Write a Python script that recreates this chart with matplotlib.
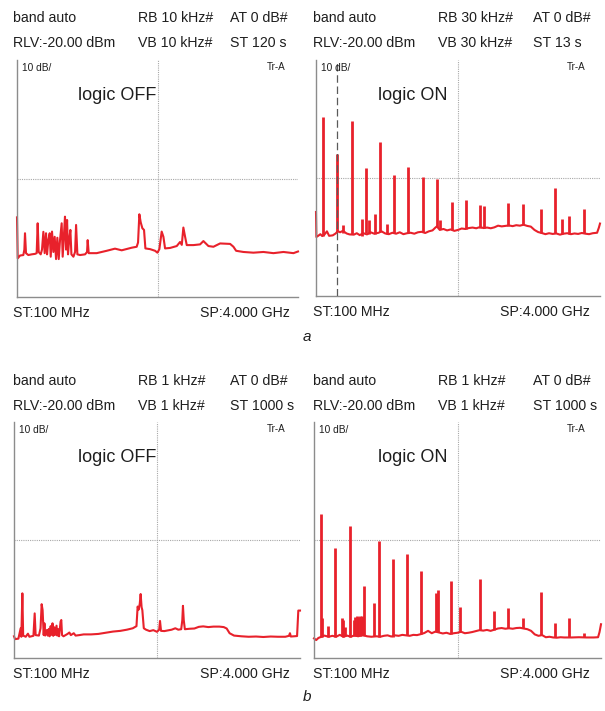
import matplotlib
matplotlib.use("Agg")
import matplotlib.pyplot as plt

plt.rcParams['font.family'] = ['Liberation Sans', 'DejaVu Sans']

# frequency axis (MHz) and level axis (dBm)
F_START, F_STOP = 100, 4000
LVL_TOP, LVL_BOTTOM = -20, -120

# header settings for the four panels
headers = [
    ("band auto", "RB 10 kHz#", "AT 0 dB#", "RLV:-20.00 dBm", "VB 10 kHz#", "ST 120 s"),
    ("band auto", "RB 30 kHz#", "AT 0 dB#", "RLV:-20.00 dBm", "VB 30 kHz#", "ST 13 s"),
    ("band auto", "RB 1 kHz#", "AT 0 dB#", "RLV:-20.00 dBm", "VB 1 kHz#", "ST 1000 s"),
    ("band auto", "RB 1 kHz#", "AT 0 dB#", "RLV:-20.00 dBm", "VB 1 kHz#", "ST 1000 s"),
]
titles = ["logic OFF", "logic ON", "logic OFF", "logic ON"]

# (a) logic OFF, continuous trace
a_off_f = [100, 110, 142, 188, 202, 211, 225, 257, 304, 350, 373, 387, 401, 429, 447,
           466, 484, 503, 517, 535, 554, 568, 586, 605, 623, 642, 660, 679, 697, 720,
           734, 753, 766, 781, 795, 808, 827, 841, 855, 883, 906, 920, 938, 975, 1045,
           1072, 1081, 1095, 1206, 1345, 1460, 1553, 1692, 1761, 1780, 1798, 1817, 1840,
           1863, 1882, 1947, 2016, 2049, 2076, 2108, 2132, 2155, 2225, 2317, 2363, 2387,
           2409, 2433, 2456, 2549, 2641, 2687, 2757, 2826, 2919, 3058, 3104, 3141, 3242,
           3381, 3520, 3659, 3798, 3937, 4000]
a_off_db = [-86.4, -103.7, -102.5, -102.3, -100.0, -93.1, -101.5, -102.3, -102.0, -101.8,
            -101.5, -88.9, -101.0, -102.0, -100.0, -92.5, -101.5, -93.1, -102.0, -96.0,
            -93.1, -103.0, -92.4, -101.0, -94.6, -104.0, -95.0, -104.0, -96.0, -88.9,
            -103.0, -93.0, -86.1, -100.0, -87.5, -102.0, -95.0, -91.7, -102.0, -103.0,
            -101.0, -89.6, -102.0, -102.3, -102.0, -101.0, -96.0, -101.5, -101.5, -100.5,
            -99.6, -100.3, -99.2, -98.8, -97.0, -85.1, -88.5, -91.0, -91.7, -99.5,
            -99.8, -100.5, -101.3, -99.8, -92.4, -94.6, -99.5, -99.3, -98.5, -96.8,
            -98.0, -90.7, -94.6, -98.1, -98.1, -97.8, -96.4, -98.5, -98.8, -97.4,
            -97.6, -98.8, -100.5, -101.0, -101.3, -101.0, -101.5, -101.0, -101.5, -100.8]

# (a) logic ON, floor trace plus discrete harmonics
a_on_f = [100, 105, 130, 160, 185, 215, 250, 280, 330, 370, 400, 430, 470, 520, 560, 620,
          660, 700, 750, 800, 850, 900, 960, 1000, 1050, 1100, 1150, 1200, 1250, 1300,
          1350, 1400, 1450, 1500, 1550, 1600, 1650, 1700, 1740, 1760, 1800, 1850, 1900,
          1950, 2000, 2050, 2100, 2150, 2200, 2250, 2300, 2350, 2400, 2450, 2500, 2550,
          2600, 2650, 2700, 2750, 2800, 2850, 2900, 2950, 3000, 3050, 3100, 3150, 3200,
          3250, 3300, 3350, 3400, 3450, 3500, 3550, 3600, 3650, 3700, 3750, 3800, 3850,
          3900, 3960, 3985, 4000]
a_on_db = [-84.4, -95.0, -94.5, -93.8, -94.6, -94.0, -92.6, -94.5, -94.3, -93.5, -92.5,
           -93.0, -92.4, -93.5, -93.9, -94.0, -93.4, -94.2, -93.4, -93.9, -93.0, -93.6,
           -93.2, -92.6, -93.5, -93.8, -93.2, -93.6, -93.0, -93.8, -93.4, -93.2, -93.6,
           -93.0, -92.8, -93.3, -92.6, -92.2, -91.0, -90.5, -92.0, -91.6, -92.2, -91.8,
           -92.4, -92.0, -91.4, -91.6, -91.2, -91.0, -91.3, -90.8, -91.2, -91.0, -91.3,
           -90.9, -90.2, -90.5, -90.3, -90.1, -90.4, -90.0, -90.2, -89.8, -90.3, -90.6,
           -92.0, -92.9, -93.3, -93.8, -93.4, -93.7, -93.5, -94.0, -93.6, -93.4, -93.8,
           -93.5, -93.7, -93.3, -93.6, -93.8, -93.4, -93.2, -91.0, -89.3]
a_on_spk_f = [192, 393, 475, 590, 727, 787, 832, 915, 979, 1079, 1176, 1368, 1565, 1757,
              1803, 1963, 2155, 2352, 2411, 2741, 2938, 3185, 3382, 3478, 3579, 3780]
a_on_spk_top = [-44.1, -59.8, -90.0, -45.7, -87.2, -65.7, -87.7, -85.1, -54.9, -89.6,
                -68.9, -65.4, -69.4, -70.4, -87.7, -80.2, -79.2, -81.6, -82.0, -80.6,
                -81.2, -83.0, -74.1, -87.2, -86.2, -83.3]
a_on_spk_base = [-94.5, -93.0, -93.2, -93.8, -94.4, -93.4, -93.8, -93.6, -93.0, -93.7,
                 -93.5, -93.4, -92.9, -90.8, -91.5, -92.0, -91.5, -91.0, -91.1, -90.2,
                 -90.0, -93.3, -93.5, -93.7, -93.6, -93.4]
marker_f = 388

# (b) logic OFF, continuous trace
b_off_f = [100, 115, 160, 191, 200, 214, 225, 260, 290, 310, 365, 382, 395, 440, 462, 477,
           490, 505, 515, 525, 550, 560, 575, 585, 600, 610, 625, 635, 650, 660, 680, 690,
           705, 715, 735, 745, 755, 775, 830, 855, 875, 915, 940, 990, 1050, 1150, 1250,
           1350, 1450, 1550, 1640, 1720, 1770, 1786, 1800, 1815, 1827, 1840, 1850, 1870,
           1900, 1950, 2000, 2050, 2080, 2091, 2105, 2150, 2200, 2250, 2300, 2340, 2380,
           2395, 2404, 2415, 2430, 2500, 2560, 2620, 2680, 2750, 2820, 2900, 2960, 3000,
           3040, 3100, 3200, 3300, 3400, 3500, 3600, 3700, 3800, 3850, 3863, 3875, 3960,
           3977, 4000]
b_off_db = [-110.8, -112.0, -111.8, -107.4, -111.0, -92.6, -110.5, -111.0, -109.7, -111.0,
            -110.6, -101.1, -110.3, -110.5, -107.4, -97.2, -99.7, -110.3, -105.3, -110.5,
            -108.1, -110.5, -107.7, -110.8, -106.5, -110.2, -105.3, -110.6, -107.0, -110.2,
            -106.3, -110.5, -107.8, -110.8, -104.6, -103.9, -110.3, -110.8, -109.8, -109.2,
            -110.3, -109.5, -110.5, -110.3, -110.0, -110.0, -109.8, -109.3, -108.8, -108.5,
            -108.0, -107.4, -106.5, -98.2, -99.5, -97.0, -92.9, -98.5, -99.7, -107.4,
            -108.0, -108.6, -108.2, -108.9, -108.0, -104.3, -108.5, -108.6, -108.3, -108.0,
            -107.4, -108.0, -107.8, -104.0, -97.9, -104.0, -107.8, -107.6, -107.5, -106.8,
            -106.6, -106.9, -106.7, -106.7, -106.9, -107.5, -109.5, -110.5, -110.8, -111.0,
            -110.9, -111.1, -110.9, -111.0, -111.0, -110.6, -109.5, -110.9, -110.7, -99.9,
            -99.9]

# (b) logic ON, floor trace plus discrete harmonics
b_on_f = [100, 130, 160, 200, 240, 300, 350, 400, 450, 500, 550, 600, 650, 700, 760, 820,
          880, 950, 1000, 1050, 1100, 1150, 1200, 1250, 1300, 1350, 1400, 1450, 1500, 1550,
          1600, 1650, 1700, 1750, 1800, 1850, 1900, 1950, 2000, 2050, 2100, 2150, 2200,
          2250, 2300, 2350, 2400, 2450, 2500, 2550, 2600, 2650, 2700, 2750, 2800, 2850,
          2900, 2950, 3000, 3050, 3100, 3150, 3200, 3250, 3300, 3350, 3400, 3450, 3500,
          3600, 3700, 3800, 3900, 3960, 3980, 4000]
b_on_db = [-111.7, -112.4, -111.5, -111.0, -110.5, -111.0, -110.6, -111.0, -110.2, -111.0,
           -110.5, -111.0, -110.4, -110.8, -110.2, -110.8, -111.0, -110.8, -111.0, -110.6,
           -110.4, -110.9, -110.4, -110.6, -110.2, -110.4, -110.6, -110.2, -110.3, -109.9,
           -109.4, -108.5, -109.5, -108.8, -109.2, -109.6, -109.3, -109.8, -109.5, -109.3,
           -108.9, -109.5, -109.3, -109.0, -108.6, -108.2, -108.4, -108.1, -108.5, -108.0,
           -107.5, -107.3, -107.6, -107.4, -107.6, -107.3, -107.2, -107.5, -107.8, -108.5,
           -110.0, -110.6, -110.3, -111.2, -111.0, -111.3, -111.4, -111.2, -111.3, -111.3,
           -111.2, -111.3, -111.3, -111.2, -109.0, -105.7]
b_on_spk_f = [195, 210, 286, 390, 480, 500, 520, 589, 640, 660, 680, 700, 720, 740, 750,
              760, 780, 911, 979, 1169, 1359, 1559, 1758, 1790, 1957, 2089, 2356, 2542,
              2741, 2936, 3180, 3375, 3570, 3769]
b_on_spk_top = [-59.1, -103.2, -106.5, -73.5, -103.2, -104.0, -107.0, -63.9, -104.0,
                -102.5, -102.2, -102.5, -102.2, -104.0, -102.2, -103.0, -89.5, -96.8,
                -70.3, -78.2, -76.1, -83.0, -92.6, -91.2, -87.2, -98.3, -86.7, -100.0,
                -98.9, -103.2, -92.2, -105.3, -103.2, -109.4]
b_on_spk_base = [-111.2, -111.0, -110.9, -111.0, -110.8, -111.0, -110.6, -110.9, -110.5,
                 -110.6, -110.6, -110.8, -110.5, -110.5, -110.4, -110.3, -110.5, -110.8,
                 -111.0, -110.9, -110.4, -109.8, -109.0, -109.1, -109.8, -109.0, -108.3,
                 -108.2, -107.4, -107.3, -110.4, -111.3, -111.3, -111.3]

RED = '#e8212b'
GRID = '#a8a8a8'
TXT = '#1e1e1e'

W, H = 605, 711
fig = plt.figure(figsize=(W / 100, H / 100), dpi=100)


def fx(x):
    return x / W


def fy(y):
    return 1 - y / H


# panel boxes in pixels: left, top, right, bottom
boxes = [(17, 60, 298, 297), (316, 60, 600, 296), (14, 422, 300, 658), (314, 422, 601, 658)]
axes = []
for (l, t, r, b) in boxes:
    ax = fig.add_axes([fx(l), fy(b), fx(r) - fx(l), fy(t) - fy(b)])
    ax.set_xlim(F_START, F_STOP)
    ax.set_ylim(LVL_BOTTOM, LVL_TOP)
    ax.set_xticks([(F_START + F_STOP) / 2])
    ax.set_yticks([(LVL_TOP + LVL_BOTTOM) / 2])
    ax.tick_params(length=0, labelbottom=False, labelleft=False)
    ax.grid(True, color=GRID, linestyle=(0, (1, 1)), linewidth=0.8)
    for s in ('top', 'right'):
        ax.spines[s].set_visible(False)
    for s in ('left', 'bottom'):
        ax.spines[s].set_color('#8c8c8c')
        ax.spines[s].set_linewidth(1.0)
    ax.patch.set_alpha(0)
    axes.append(ax)

ax_a_off, ax_a_on, ax_b_off, ax_b_on = axes

ax_a_off.plot(a_off_f, a_off_db, color=RED, lw=1.5, clip_on=False)

ax_a_on.plot(a_on_f, a_on_db, color=RED, lw=1.5, clip_on=False)
ax_a_on.vlines(a_on_spk_f, a_on_spk_base, a_on_spk_top, color=RED, lw=2.0)
ax_a_on.axvline(marker_f, color='#5a5a5a', lw=0.9, linestyle=(0, (6, 3)), zorder=3)

ax_b_off.plot(b_off_f, b_off_db, color=RED, lw=1.5, clip_on=False)

ax_b_on.plot(b_on_f, b_on_db, color=RED, lw=1.5, clip_on=False)
ax_b_on.vlines(b_on_spk_f, b_on_spk_base, b_on_spk_top, color=RED, lw=2.0)

# header texts
hdr_rows = [(18, 43), (18, 43), (381, 406), (381, 406)]
hdr_x = [(13, 138, 230), (313, 438, 533), (13, 138, 230), (313, 438, 533)]
for i in range(4):
    y1, y2 = hdr_rows[i]
    x1, x2, x3 = hdr_x[i]
    h = headers[i]
    for (x, y, s) in [(x1, y1, h[0]), (x2, y1, h[1]), (x3, y1, h[2]),
                      (x1, y2, h[3]), (x2, y2, h[4]), (x3, y2, h[5])]:
        fig.text(fx(x), fy(y), s, fontsize=10.2, color=TXT, va='center', ha='left')

# inside-panel labels
col_left = [13, 313, 13, 313]
col_right = [290, 590, 290, 590]
for i, (l, t, r, b) in enumerate(boxes):
    fig.text(fx(l + 5), fy(t + 8), "10 dB/", fontsize=7.3, color=TXT, va='center', ha='left')
    fig.text(fx(col_right[i] - 4), fy(t + 7), "Tr-A", fontsize=7.1, color=TXT, va='center', ha='right')
    fig.text(fx(col_left[i] + 65), fy(t + 35), titles[i], fontsize=13, color=TXT, va='center', ha='left')
    fig.text(fx(col_left[i]), fy(b + 16), "ST:100 MHz", fontsize=10.2, color=TXT, va='center', ha='left')
    fig.text(fx(col_right[i]), fy(b + 16), "SP:4.000 GHz", fontsize=10.2, color=TXT, va='center', ha='right')

fig.text(fx(307), fy(337), "a", fontsize=11, style='italic', color=TXT, ha='center', va='center')
fig.text(fx(307), fy(697), "b", fontsize=11, style='italic', color=TXT, ha='center', va='center')

fig.savefig("out.png", dpi=100, facecolor='white')
